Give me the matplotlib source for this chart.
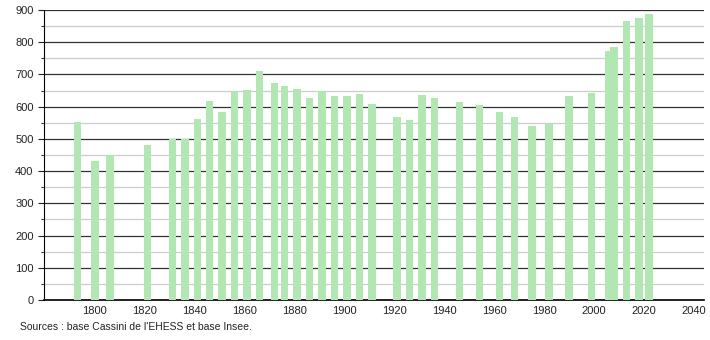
import matplotlib
matplotlib.use("Agg")
import matplotlib.pyplot as plt
from matplotlib.ticker import MultipleLocator

years = [1793, 1800, 1806, 1821, 1831, 1836, 1841, 1846, 1851, 1856,
         1861, 1866, 1872, 1876, 1881, 1886, 1891, 1896, 1901, 1906,
         1911, 1921, 1926, 1931, 1936, 1946, 1954, 1962, 1968, 1975,
         1982, 1990, 1999, 2006, 2008, 2013, 2018, 2022]
population = [553, 432, 450, 482, 500, 500, 561, 619, 585, 649,
              653, 712, 672, 663, 656, 628, 648, 632, 632, 638,
              607, 569, 560, 637, 628, 616, 604, 582, 569, 541,
              547, 632, 641, 772, 786, 865, 874, 889]
x_ticks = [1800, 1820, 1840, 1860, 1880, 1900, 1920, 1940, 1960, 1980, 2000, 2020, 2040]
source_text = "Sources : base Cassini de l'EHESS et base Insee."

plt.rcParams['font.family'] = ['Liberation Sans', 'DejaVu Sans']

fig = plt.figure(figsize=(7.1, 3.4), dpi=100)
ax = fig.add_axes([44/710, 40/340, 660/710, 290/340])

ax.bar(years, population, width=3.0, color='#b2e6b2', zorder=3)

ax.set_xlim(1779.6, 2044)
ax.set_ylim(0, 900)
ax.yaxis.set_major_locator(MultipleLocator(100))
ax.yaxis.set_minor_locator(MultipleLocator(50))
ax.set_xticks(x_ticks)
ax.set_xticklabels([str(t) for t in x_ticks])

ax.grid(axis='y', which='major', color='#333333', linewidth=0.9, zorder=1)
ax.grid(axis='y', which='minor', color='#cccccc', linewidth=0.9, zorder=1)
ax.set_axisbelow(True)

for s in ['top', 'right']:
    ax.spines[s].set_visible(False)
ax.spines['left'].set_color('black')
ax.spines['bottom'].set_color('black')
ax.spines['bottom'].set_linewidth(1.2)

ax.tick_params(axis='x', length=0, labelsize=8, pad=4, colors='#222222')
ax.tick_params(axis='y', which='major', length=4, labelsize=8, colors='#222222')
ax.tick_params(axis='y', which='minor', length=2)

fig.text(20/710, 1 - 327/340, source_text, fontsize=7.5, color='#222222', va='center', ha='left')

fig.savefig('out.png', dpi=100)
